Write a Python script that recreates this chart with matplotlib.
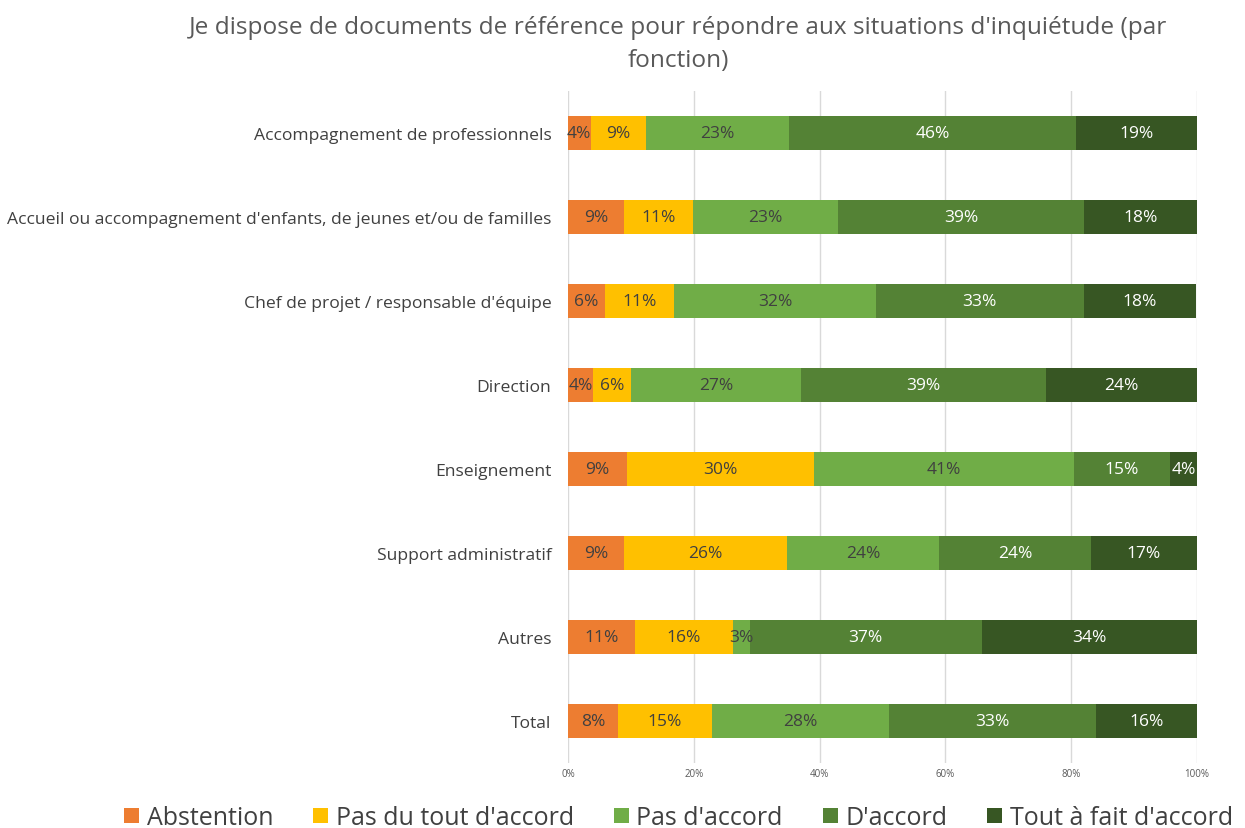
import matplotlib.pyplot as plt
import numpy as np

plt.rcParams['font.family'] = ['Liberation Sans Narrow', 'Open Sans', 'DejaVu Sans']

categories = [
    "Accompagnement de professionnels",
    "Accueil ou accompagnement d'enfants, de jeunes et/ou de familles",
    "Chef de projet / responsable d'équipe",
    "Direction",
    "Enseignement",
    "Support administratif",
    "Autres",
    "Total",
]
series_names = ["Abstention", "Pas du tout d'accord", "Pas d'accord",
                "D'accord", "Tout à fait d'accord"]

abstention = [3.6, 8.9, 5.9, 4.0, 9.4, 8.9, 10.6, 7.9]
pas_du_tout = [8.8, 11.0, 11.0, 6.0, 29.7, 26.0, 15.6, 15.0]
pas_accord = [22.8, 23.1, 32.0, 27.0, 41.4, 24.1, 2.7, 28.1]
accord = [45.6, 39.1, 33.1, 39.0, 15.2, 24.1, 36.9, 32.9]
tout_a_fait = [19.2, 17.9, 17.9, 24.1, 4.3, 16.9, 34.2, 16.1]

colors = ["#ED7D31", "#FFC000", "#70AD47", "#548235", "#375623"]
text_colors = ["#404040", "#404040", "#404040", "white", "white"]

data = [abstention, pas_du_tout, pas_accord, accord, tout_a_fait]

fig = plt.figure(figsize=(12.45, 8.29), dpi=100)
ax = fig.add_axes([0.4562, 0.0784, 0.5052, 0.8106])

y = np.arange(len(categories))
left = np.zeros(len(categories))
for vals, name, col, tcol in zip(data, series_names, colors, text_colors):
    vals = np.array(vals)
    ax.barh(y, vals, left=left, height=0.4, color=col, label=name, zorder=3)
    for yi, l, v in zip(y, left, vals):
        ax.text(l + v / 2, yi, f"{v:.0f}%", ha="center", va="center",
                color=tcol, fontsize=12.5, zorder=4)
    left += vals

ax.set_xlim(0, 100)
ax.set_ylim(len(categories) - 0.5, -0.5)
ax.set_yticks(y, categories)
ax.set_xticks(np.arange(0, 101, 20), [f"{v}%" for v in range(0, 101, 20)])
ax.tick_params(axis="x", labelsize=7, colors="#595959", length=0)
ax.tick_params(axis="y", labelsize=12.6, colors="#404040", length=0, pad=12)
ax.grid(axis="x", color="#D9D9D9", lw=1, zorder=0)
for s in ax.spines.values():
    s.set_visible(False)

fig.text(0.545, 0.981, "Je dispose de documents de référence pour répondre aux situations d'inquiétude (par",
         ha="center", va="top", fontsize=17.6, color="#595959")
fig.text(0.545, 0.941, "fonction)", ha="center", va="top", fontsize=17.6, color="#595959")

fig.legend(loc="lower center", bbox_to_anchor=(0.545, -0.03), ncol=5, frameon=False,
           fontsize=18, handlelength=0.6, handleheight=0.6, columnspacing=1.6,
           handletextpad=0.3, labelcolor="#404040")

fig.savefig("out.png", dpi=100)
